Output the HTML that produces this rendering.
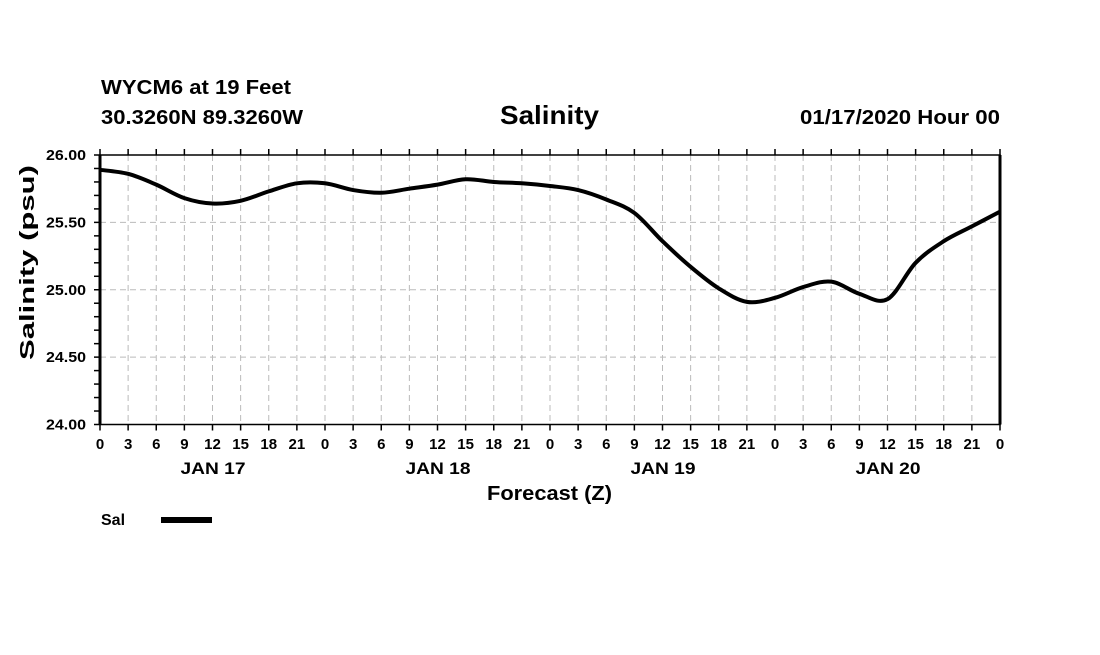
<!DOCTYPE html>
<html><head><meta charset="utf-8"><style>
body{margin:0;background:#fff;}
svg text{font-family:"Liberation Sans",sans-serif;font-weight:bold;fill:#000;}
</style></head><body>
<svg id="c" width="1100" height="650" xmlns="http://www.w3.org/2000/svg">
<text x="101" y="94" font-size="20" textLength="190" lengthAdjust="spacingAndGlyphs">WYCM6 at 19 Feet</text>
<text x="101" y="124" font-size="20" textLength="202" lengthAdjust="spacingAndGlyphs">30.3260N 89.3260W</text>
<text x="500" y="124" font-size="26" textLength="99" lengthAdjust="spacingAndGlyphs">Salinity</text>
<text x="800" y="124" font-size="20" textLength="200" lengthAdjust="spacingAndGlyphs">01/17/2020 Hour 00</text>
<text x="487" y="500" font-size="20" textLength="125" lengthAdjust="spacingAndGlyphs">Forecast (Z)</text>
<text transform="translate(34,360) rotate(-90)" font-size="20" textLength="195" lengthAdjust="spacingAndGlyphs">Salinity (psu)</text>
<text x="101" y="525" font-size="16">Sal</text>
<line x1="161" y1="520" x2="212" y2="520" stroke="#000" stroke-width="6"/>
<g id="grid"></g><g id="axes"></g><g id="series"></g>
</svg>
<script>
const hours=[0,3,6,9,12,15,18,21,24,27,30,33,36,39,42,45,48,51,54,57,60,63,66,69,72,75,78,81,84,87,90,93,96];
const salinity=[25.89,25.86,25.78,25.68,25.64,25.66,25.73,25.79,25.79,25.74,25.72,25.75,25.78,25.82,25.80,25.79,25.77,25.74,25.67,25.57,25.36,25.17,25.01,24.91,24.94,25.02,25.06,24.97,24.93,25.20,25.36,25.47,25.58];
const yTicks=[24.00,24.50,25.00,25.50,26.00];
const xTickLabels=["0","3","6","9","12","15","18","21"];
const dayLabels=["JAN 17","JAN 18","JAN 19","JAN 20"];
const X0=100,X1=1000,Y0=424.5,Y1=155;
const xs=h=>X0+(h/96)*(X1-X0);
const ys=v=>Y0-(v-24)/2*(Y0-Y1);
const NS="http://www.w3.org/2000/svg";
function mk(p,tag,a){const e=document.createElementNS(NS,tag);for(const k in a)e.setAttribute(k,a[k]);p.appendChild(e);return e;}
const grid=document.getElementById('grid'),axes=document.getElementById('axes'),ser=document.getElementById('series');
for(let h=0;h<=96;h+=3){
  const x=xs(h);
  if(h>0&&h<96){const g=mk(grid,'line',{x1:x,y1:Y1,x2:x,y2:Y0,stroke:'#bbb','stroke-dasharray':'6,4'});
  
  }
  mk(axes,'line',{x1:x,y1:Y0,x2:x,y2:Y0+6,stroke:'#000','stroke-width':1.5});
  mk(axes,'line',{x1:x,y1:Y1,x2:x,y2:Y1-6,stroke:'#000','stroke-width':1.5});
  const t=mk(axes,'text',{x:x,y:449,'font-size':15,'text-anchor':'middle'});
  t.textContent=xTickLabels[(h%24)/3];
  
  
}
dayLabels.forEach((d,i)=>{const t=mk(axes,'text',{x:xs(12+24*i)-32,y:474,'font-size':17,textLength:65,lengthAdjust:'spacingAndGlyphs'});t.textContent=d;

});
for(let v=24;v<=26.001;v+=0.1){const y=ys(v);mk(axes,'line',{x1:X0-6,y1:y,x2:X0,y2:y,stroke:'#000','stroke-width':1.5});}
yTicks.forEach(v=>{const y=ys(v);
  if(v>24&&v<26){const g=mk(grid,'line',{x1:X0,y1:y,x2:X1,y2:y,stroke:'#bbb','stroke-dasharray':'6,4'});
  
  }
  const t=mk(axes,'text',{x:46,y:y+5,'font-size':15,textLength:40,lengthAdjust:'spacingAndGlyphs'});t.textContent=v.toFixed(2);
  
  });
const fr=mk(axes,'rect',{x:X0,y:Y1,width:X1-X0,height:Y0-Y1,fill:'none',stroke:'#000','stroke-width':1.5});


mk(axes,'line',{x1:X0,y1:Y1,x2:X0,y2:Y0,stroke:'#000','stroke-width':3});
mk(axes,'line',{x1:X1,y1:Y1,x2:X1,y2:Y0,stroke:'#000','stroke-width':3});
const P=hours.map((h,i)=>[xs(h),ys(salinity[i])]);
let d=`M${P[0][0]},${P[0][1]}`;
for(let i=0;i<P.length-1;i++){const p0=P[Math.max(0,i-1)],p1=P[i],p2=P[i+1],p3=P[Math.min(P.length-1,i+2)];
 d+=` C${p1[0]+(p2[0]-p0[0])/6},${p1[1]+(p2[1]-p0[1])/6} ${p2[0]-(p3[0]-p1[0])/6},${p2[1]-(p3[1]-p1[1])/6} ${p2[0]},${p2[1]}`;}
const line=mk(ser,'path',{d:d,fill:'none',stroke:'#000','stroke-width':4,'stroke-linejoin':'round'});


</script>
</body></html>
